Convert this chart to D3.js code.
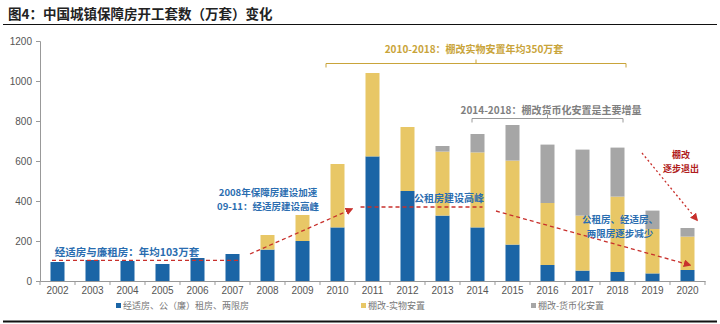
<!DOCTYPE html>
<html>
<head>
<meta charset="utf-8">
<script src="https://cdn.jsdelivr.net/npm/d3@7"></script>
<style>
  html, body { margin: 0; padding: 0; background: #fff; }
  svg { display: block; }
</style>
</head>
<body>
<svg id="chart" width="720" height="324"></svg>
<script>
// Annual housing starts (10k units), split by programme
const years = ["2002","2003","2004","2005","2006","2007","2008","2009","2010","2011",
               "2012","2013","2014","2015","2016","2017","2018","2019","2020"];
const affordable = [95, 105, 100, 85, 115, 135, 157, 200, 268, 623, 450, 327, 268, 182, 80, 52, 45, 38, 55];
const renovationInKind = [0, 0, 0, 0, 0, 0, 73, 130, 317, 417, 320, 320, 375, 420, 310, 275, 377, 222, 167];
const renovationCash = [0, 0, 0, 0, 0, 0, 0, 0, 0, 0, 0, 28, 92, 178, 292, 330, 245, 92, 43];
const yTicks = [0, 200, 400, 600, 800, 1000, 1200];
const seriesNames = ["经适房、公（廉）租房、两限房", "棚改-实物安置", "棚改-货币化安置"];
const seriesColors = ["#1b65a6", "#e8c766", "#a6a6a6"];
const avgAffordable = 103;   // 2002-2007 average
const rentalPeak = 370;      // level of the public-rental peak guide

const svg = d3.select("#chart");
const CJK = "'Noto Sans CJK SC', sans-serif";
const LAT = "'Liberation Sans', Arial, sans-serif";

// Title and rules
svg.append("text").attr("x", 8).attr("y", 19)
  .attr("font-family", CJK).attr("font-weight", "bold").attr("font-size", 13.5)
  .attr("fill", "#222").text("图4：中国城镇保障房开工套数（万套）变化");
svg.append("line").attr("x1", 3).attr("x2", 717).attr("y1", 24.5).attr("y2", 24.5)
  .attr("stroke", "#111").attr("stroke-width", 1.2);
svg.append("line").attr("x1", 3).attr("x2", 717).attr("y1", 321.5).attr("y2", 321.5)
  .attr("stroke", "#111").attr("stroke-width", 2);

// Scales
const x = d3.scaleBand().domain(years).range([40, 705]).paddingInner(0.6).paddingOuter(0.3);
const y = d3.scaleLinear().domain([0, 1200]).range([281, 41]);

// Stacked data
const rows = years.map((yr, i) => ({ year: yr, a: affordable[i], b: renovationInKind[i], c: renovationCash[i] }));
const stack = d3.stack().keys(["a", "b", "c"])(rows);

svg.append("g").selectAll("g").data(stack).join("g")
  .attr("fill", (d, i) => seriesColors[i])
  .selectAll("rect").data(d => d).join("rect")
  .attr("x", d => x(d.data.year))
  .attr("width", x.bandwidth())
  .attr("y", d => y(d[1]))
  .attr("height", d => Math.max(0, y(d[0]) - y(d[1])));

// Y axis
const yAxis = svg.append("g").attr("transform", "translate(40,0)")
  .call(d3.axisLeft(y).tickValues(yTicks).tickFormat(d3.format("d")).tickSize(4).tickPadding(4));
yAxis.select(".domain").attr("stroke", "#999");
yAxis.selectAll(".tick line").attr("stroke", "#999");
yAxis.selectAll(".tick text").attr("font-family", LAT).attr("font-size", 10).attr("fill", "#555");

// X axis with ticks on category boundaries
const xAxis = svg.append("g").attr("transform", "translate(0,281)")
  .call(d3.axisBottom(x).tickSize(0).tickPadding(6));
xAxis.select(".domain").attr("stroke", "#999");
xAxis.selectAll(".tick text").attr("font-family", LAT).attr("font-size", 10).attr("fill", "#555");
const step = x.step();
svg.append("g").selectAll("line").data(years.concat(["end"])).join("line")
  .attr("x1", (d, i) => 40 + i * step).attr("x2", (d, i) => 40 + i * step)
  .attr("y1", 281).attr("y2", 285).attr("stroke", "#999");

// Legend
const legendX = [116, 361, 531];
const lg = svg.append("g").selectAll("g").data(seriesNames).join("g")
  .attr("transform", (d, i) => `translate(${legendX[i]},307)`);
lg.append("rect").attr("x", 0).attr("y", -4).attr("width", 5).attr("height", 5)
  .attr("fill", (d, i) => seriesColors[i]);
lg.append("text").attr("x", 7).attr("y", 1.5)
  .attr("font-family", CJK).attr("font-size", 9).attr("fill", "#777").text(d => d);

// Annotation helpers
const red = "#c8302c";
const defs = svg.append("defs");
defs.append("marker").attr("id", "arrow").attr("viewBox", "0 0 10 10")
  .attr("refX", 8).attr("refY", 5).attr("markerWidth", 6).attr("markerHeight", 6)
  .attr("orient", "auto-start-reverse")
  .append("path").attr("d", "M0,0 L10,5 L0,10 z").attr("fill", red);

function dashed(x1, y1, x2, y2, arrow, dash) {
  const l = svg.append("line").attr("x1", x1).attr("y1", y1).attr("x2", x2).attr("y2", y2)
    .attr("stroke", red).attr("stroke-width", 1.3).attr("stroke-dasharray", dash || "4,3");
  if (arrow) l.attr("marker-end", "url(#arrow)");
}
// Labels are centred on (cx, cy); extra lines stack below the first
function label(lines, cx, cy, color, size, lineGap) {
  lines.forEach((s, i) => {
    svg.append("text").attr("text-anchor", "middle")
      .attr("font-family", CJK).attr("font-weight", "bold").attr("font-size", size || 10)
      .attr("fill", color)
      .attr("x", cx).attr("y", cy + i * (lineGap || 12) + 3.4).text(s);
  });
}
const cx = yr => x(yr) + x.bandwidth() / 2;

// Average of affordable housing 2002-2007
dashed(52, y(avgAffordable), 239, y(avgAffordable), false);
label(["经适房与廉租房：年均103万套"], 127, 252.5, "#2a6db0", 10.5);

// Rise after 2008
dashed(250, 254, 352, 209, true);
label(["2008年保障房建设加速", "09-11：经适房建设高峰"], 268, 192.5, "#2a6db0", 9.5, 14);

// Public rental peak
dashed(cx("2011") - 12, y(rentalPeak), cx("2014") + 5, y(rentalPeak), false);
label(["公租房建设高峰"], 449, 199, "#2a6db0", 10);

// Decline of affordable housing
dashed(496, 211, 690, 265, true);
label(["公租房、经适房、", "两限房逐步减少"], 620, 219.5, "#2a6db0", 9.5, 14);

// Renovation phasing out
dashed(642, 153, 697, 220, true, "2,2.5");
label(["棚改", "逐步退出"], 681, 155, "#b01c1c", 9, 14);

// Brackets over the renovation periods
function bracket(x1, x2, yy, color, w) {
  const mid = (x1 + x2) / 2;
  svg.append("path")
    .attr("d", `M${x1},${yy + 4} L${x1},${yy} L${x2},${yy} L${x2},${yy + 4} M${mid},${yy} L${mid},${yy - 4}`)
    .attr("fill", "none").attr("stroke", color).attr("stroke-width", w || 1);
}
bracket(x("2010") - 4.5, x("2018") + x.bandwidth() + 1.5, 63.5, "#c9a43a", 1);
label(["2010-2018：棚改实物安置年均350万套"], 474, 50, "#c9a43a", 10);

bracket(x("2014") + 1.5, x("2018") + x.bandwidth() - 1.5, 118.5, "#9a9a9a", 1);
label(["2014-2018：棚改货币化安置是主要增量"], 551, 111, "#7f7f7f", 10);
</script>
</body>
</html>
